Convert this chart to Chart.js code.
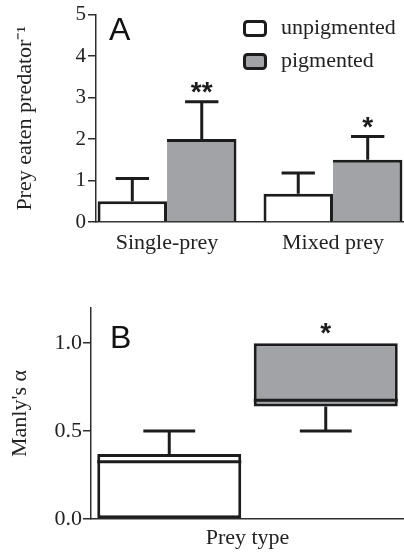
<!DOCTYPE html>
<html>
<head>
<meta charset="utf-8">
<script src="https://cdn.jsdelivr.net/npm/chart.js@4.4.0/dist/chart.umd.min.js"></script>
<style>
  html, body { margin: 0; padding: 0; background: #fff; overflow: hidden; }
  #wrapA { position: absolute; left: 0; top: 0; width: 404px; height: 268px; }
  #wrapB { position: absolute; left: 0; top: 268px; width: 404px; height: 284px; }
</style>
</head>
<body>
<div id="wrapA"><canvas id="chartA" width="404" height="268"></canvas></div>
<div id="wrapB"><canvas id="chartB" width="404" height="284"></canvas></div>
<script>
// panneau A
var categoriesA = ['Single-prey', 'Mixed prey'];
var positionsA = [1, 2];
var unpigMeans = [0.5, 0.68];
var unpigErrors = [0.55, 0.5];
var pigMeans = [2.0, 1.5];
var pigErrors = [0.9, 0.56];
var pigStars = ['**', '*'];
var yTicksA = [0, 1, 2, 3, 4, 5];

// panneau B
var categoriesB = ['unpigmented', 'pigmented'];
var boxLow = [0, 0.64];
var boxHigh = [0.37, 1.0];
var medians = [0.325, 0.675];
var whiskerLow = [0, 0.5];
var whiskerHigh = [0.5, 1.0];
var starsB = ['', '*'];
var yTicksB = [0, 0.5, 1.0];

var noir = '#1c1c1c';
var axe = '#2e2e2e';
var gris = '#a2a3a6';
var serif = 'Liberation Serif';
var sans = 'Liberation Sans';

function etoile(ctx, txt, x, y) {
    if (!txt) return;
    ctx.save();
    ctx.fillStyle = noir;
    ctx.font = 'bold 28px "' + sans + '"';
    ctx.textAlign = 'center';
    ctx.textBaseline = 'alphabetic';
    ctx.fillText(txt, x, y);
    ctx.restore();
}

function lettre(ctx, txt, x, y) {
    ctx.save();
    ctx.fillStyle = '#111';
    ctx.font = '32px "' + sans + '"';
    ctx.textBaseline = 'alphabetic';
    ctx.fillText(txt, x, y);
    ctx.restore();
}

var pluginErreurs = {
    id: 'erreurs',
    afterDatasetsDraw: function (chart) {
        var ctx = chart.ctx;
        var y = chart.scales.y;
        chart.data.datasets.forEach(function (ds, i) {
            var meta = chart.getDatasetMeta(i);
            meta.data.forEach(function (bar, j) {
                var haut = y.getPixelForValue(ds.means[j] + ds.errors[j]);
                var cap = bar.width * 0.48;
                ctx.save();
                ctx.strokeStyle = noir;
                ctx.lineWidth = 3;
                ctx.beginPath();
                ctx.moveTo(bar.x, bar.y);
                ctx.lineTo(bar.x, haut);
                ctx.moveTo(bar.x - cap / 2, haut);
                ctx.lineTo(bar.x + cap / 2, haut);
                ctx.stroke();
                ctx.restore();
                if (ds.stars) etoile(ctx, ds.stars[j], bar.x, haut - 1);
            });
        });

        // legende
        chart.data.datasets.forEach(function (ds, i) {
            var lx = 243, ly = 20 + i * 33;
            ctx.save();
            ctx.fillStyle = ds.backgroundColor;
            ctx.strokeStyle = noir;
            ctx.lineWidth = 3;
            ctx.beginPath();
            ctx.roundRect(lx + 1.5, ly + 1.5, 21, 14, 3);
            ctx.fill();
            ctx.stroke();
            ctx.fillStyle = '#222';
            ctx.font = '22px "' + serif + '"';
            ctx.textBaseline = 'middle';
            ctx.fillText(ds.label, 281, ly + 8);
            ctx.restore();
        });

        lettre(ctx, 'A', 109, 40);
    }
};

var ctxA = document.getElementById('chartA').getContext('2d');
var chartA = new Chart(ctxA, {
    type: 'bar',
    data: {
        datasets: [{
            label: 'unpigmented',
            data: positionsA.map(function (p, i) { return {x: p, y: unpigMeans[i]}; }),
            means: unpigMeans,
            errors: unpigErrors,
            backgroundColor: '#ffffff',
            borderColor: noir,
            borderWidth: {top: 3, left: 3, right: 3, bottom: 0}
        }, {
            label: 'pigmented',
            data: positionsA.map(function (p, i) { return {x: p, y: pigMeans[i]}; }),
            means: pigMeans,
            errors: pigErrors,
            stars: pigStars,
            backgroundColor: gris,
            borderColor: noir,
            borderWidth: {top: 3, left: 0, right: 3, bottom: 0}
        }]
    },
    options: {
        responsive: false,
        animation: false,
        events: [],
        categoryPercentage: 0.837,
        barPercentage: 1,
        layout: { padding: {top: 14, left: 0, right: 0, bottom: 0} },
        plugins: { legend: { display: false }, tooltip: { enabled: false } },
        scales: {
            x: {
                type: 'linear',
                offset: false,
                min: 0.572,
                max: 2.428,
                afterBuildTicks: function (scale) {
                    scale.ticks = positionsA.map(function (p) { return {value: p}; });
                },
                afterFit: function (scale) { scale.height = 46; },
                ticks: {
                    callback: function (v) { return categoriesA[positionsA.indexOf(v)]; },
                    font: { family: serif, size: 22 },
                    color: '#222',
                    padding: 8,
                    maxRotation: 0
                },
                grid: { offset: false, drawOnChartArea: false, drawTicks: false },
                border: { color: axe, width: 1.5 }
            },
            y: {
                min: 0,
                max: 5,
                afterBuildTicks: function (scale) {
                    scale.ticks = yTicksA.map(function (v) { return {value: v}; });
                },
                afterFit: function (scale) { scale.width = 96; },
                ticks: {
                    font: { family: serif, size: 21 },
                    color: '#222',
                    padding: 2
                },
                grid: { drawOnChartArea: false, tickLength: 8, color: axe, lineWidth: 1.5 },
                border: { color: axe, width: 1.5 },
                title: {
                    display: true,
                    text: 'Prey eaten predator\u207B\u00B9',
                    font: { family: serif, size: 22 },
                    color: '#222',
                    padding: {top: 12, bottom: 0}
                }
            }
        }
    },
    plugins: [pluginErreurs]
});

var pluginBoites = {
    id: 'boites',
    afterDatasetsDraw: function (chart) {
        var ctx = chart.ctx;
        var y = chart.scales.y;
        var meta = chart.getDatasetMeta(0);
        meta.data.forEach(function (bar, j) {
            var g = bar.x - bar.width / 2, d = bar.x + bar.width / 2;
            var cap = bar.width * 0.36;
            ctx.save();
            ctx.strokeStyle = noir;
            ctx.lineWidth = 3;
            ctx.beginPath();
            var ym = y.getPixelForValue(medians[j]);
            ctx.moveTo(g, ym);
            ctx.lineTo(d, ym);
            if (whiskerHigh[j] > boxHigh[j]) {
                var yh = y.getPixelForValue(whiskerHigh[j]);
                ctx.moveTo(bar.x, y.getPixelForValue(boxHigh[j]));
                ctx.lineTo(bar.x, yh);
                ctx.moveTo(bar.x - cap / 2, yh);
                ctx.lineTo(bar.x + cap / 2, yh);
            }
            if (whiskerLow[j] < boxLow[j]) {
                var yl = y.getPixelForValue(whiskerLow[j]);
                ctx.moveTo(bar.x, y.getPixelForValue(boxLow[j]));
                ctx.lineTo(bar.x, yl);
                ctx.moveTo(bar.x - cap / 2, yl);
                ctx.lineTo(bar.x + cap / 2, yl);
            }
            ctx.stroke();
            ctx.restore();
            etoile(ctx, starsB[j], bar.x, y.getPixelForValue(Math.max(whiskerHigh[j], boxHigh[j])) - 1);
        });
        lettre(ctx, 'B', 110, 80);
    }
};

var ctxB = document.getElementById('chartB').getContext('2d');
var chartB = new Chart(ctxB, {
    type: 'bar',
    data: {
        labels: categoriesB,
        datasets: [{
            label: 'Manly\'s \u03B1',
            data: boxLow.map(function (v, i) { return [v, boxHigh[i]]; }),
            backgroundColor: ['#ffffff', gris],
            borderColor: noir,
            borderWidth: 3,
            borderSkipped: false
        }]
    },
    options: {
        responsive: false,
        animation: false,
        events: [],
        categoryPercentage: 0.92,
        barPercentage: 1,
        layout: { padding: {top: 40, left: 0, right: 0, bottom: 0} },
        plugins: { legend: { display: false }, tooltip: { enabled: false } },
        scales: {
            x: {
                afterFit: function (scale) { scale.height = 33; },
                ticks: { display: false },
                grid: { drawOnChartArea: false, drawTicks: false },
                border: { color: axe, width: 1.5 },
                title: {
                    display: true,
                    text: 'Prey type',
                    font: { family: serif, size: 22 },
                    color: '#222',
                    padding: {top: 0, bottom: 1}
                }
            },
            y: {
                min: 0,
                max: 1.2,
                afterBuildTicks: function (scale) {
                    scale.ticks = yTicksB.map(function (v) { return {value: v}; });
                },
                afterFit: function (scale) { scale.width = 91; },
                ticks: {
                    callback: function (v) { return v.toFixed(1); },
                    font: { family: serif, size: 22 },
                    color: '#222',
                    padding: 1
                },
                grid: { drawOnChartArea: false, tickLength: 8, color: axe, lineWidth: 1.5 },
                border: { color: axe, width: 1.5 },
                title: {
                    display: true,
                    text: 'Manly\'s \u03B1',
                    font: { family: serif, size: 22 },
                    color: '#222',
                    padding: {top: 7, bottom: 0}
                }
            }
        }
    },
    plugins: [pluginBoites]
});
</script>
</body>
</html>
